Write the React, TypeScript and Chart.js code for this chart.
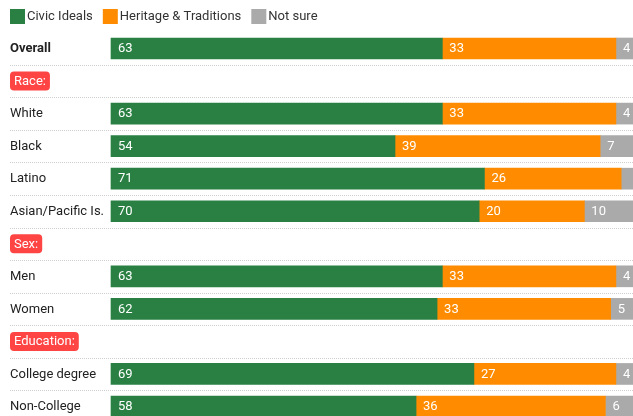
import React, { useEffect, useRef } from "react";
import { Chart, registerables } from "chart.js";

Chart.register(...registerables);

const categories = [
  "Overall",
  "Race:",
  "White",
  "Black",
  "Latino",
  "Asian/Pacific Is.",
  "Sex:",
  "Men",
  "Women",
  "Education:",
  "College degree",
  "Non-College",
];
const headerLabels = ["Race:", "Sex:", "Education:"];
const boldLabels = ["Overall"];
const seriesNames = ["Civic Ideals", "Heritage & Traditions", "Not sure"];
const civicIdeals = [63, null, 63, 54, 71, 70, null, 63, 62, null, 69, 58];
const heritage = [33, null, 33, 39, 26, 20, null, 33, 33, null, 27, 36];
const notSure = [4, null, 4, 7, 3, 10, null, 4, 5, null, 4, 6];
const colors = ["#2a8043", "#ff8c00", "#aaaaaa"];

const FONT = "Roboto, 'Noto Sans', sans-serif";

const overlayPlugin = {
  id: "overlay",
  afterDatasetsDraw(chart: any) {
    const ctx = chart.ctx as CanvasRenderingContext2D;
    const yScale = chart.scales.y;
    const width = chart.width;
    ctx.save();
    // legend
    ctx.font = `13px ${FONT}`;
    ctx.textBaseline = "middle";
    let lx = 10;
    seriesNames.forEach((name, i) => {
      ctx.fillStyle = colors[i];
      ctx.fillRect(lx, 9, 15, 15);
      ctx.fillStyle = "#333";
      ctx.textAlign = "left";
      ctx.fillText(name, lx + 17, 17);
      lx += 17 + ctx.measureText(name).width + 10;
    });
    // separators
    ctx.strokeStyle = "#cfcfcf";
    ctx.lineWidth = 1;
    ctx.setLineDash([1, 1]);
    for (let i = 0; i < categories.length - 1; i++) {
      const y = Math.round((yScale.getPixelForValue(i) + yScale.getPixelForValue(i + 1)) / 2) + 0.5;
      ctx.beginPath();
      ctx.moveTo(10, y);
      ctx.lineTo(width, y);
      ctx.stroke();
    }
    ctx.setLineDash([]);
    // category labels
    categories.forEach((label, i) => {
      const y = yScale.getPixelForValue(i);
      if (headerLabels.includes(label)) {
        ctx.font = `13px ${FONT}`;
        const w = ctx.measureText(label).width + 8;
        ctx.fillStyle = "#ff4444";
        ctx.beginPath();
        (ctx as any).roundRect(10, y - 9.5, w, 19, 4);
        ctx.fill();
        ctx.fillStyle = "#ffffff";
        ctx.textAlign = "left";
        ctx.fillText(label, 14, y + 0.5);
      } else {
        ctx.font = boldLabels.includes(label) ? `bold 13px ${FONT}` : `13px ${FONT}`;
        ctx.fillStyle = "#222";
        ctx.textAlign = "left";
        ctx.fillText(label, 10, y + 0.5);
      }
    });
    // value labels
    ctx.font = `13px ${FONT}`;
    ctx.fillStyle = "#ffffff";
    chart.data.datasets.forEach((ds: any, di: number) => {
      const meta = chart.getDatasetMeta(di);
      meta.data.forEach((bar: any, i: number) => {
        const v = ds.data[i];
        if (v == null) return;
        const left = Math.min(bar.x, bar.base);
        if (left + 6 > width - 4) return;
        if (v < 4) return;
        ctx.fillText(String(v), left + 7, bar.y + 0.5);
      });
    });
    ctx.restore();
  },
};

export default function App() {
  const ref = useRef<HTMLCanvasElement>(null);
  useEffect(() => {
    document.body.style.margin = "0";
    const chart = new Chart(ref.current as HTMLCanvasElement, {
      type: "bar",
      data: {
        labels: categories,
        datasets: [civicIdeals, heritage, notSure].map((d, i) => ({
          label: seriesNames[i],
          data: d as any,
          backgroundColor: colors[i],
          barThickness: 21,
          borderWidth: 0,
          clip: false as any,
        })),
      },
      options: {
        indexAxis: "y",
        animation: false,
        responsive: false,
        maintainAspectRatio: false,
        layout: { padding: { left: 111, right: 0, top: 48.5, bottom: 9.5 } },
        plugins: { legend: { display: false }, tooltip: { enabled: false } },
        scales: {
          x: { stacked: true, min: 0, max: 99.25, display: false },
          y: { stacked: true, display: false, offset: false },
        },
      },
      plugins: [overlayPlugin],
    });
    return () => chart.destroy();
  }, []);
  return (
    <div style={{ position: "fixed", left: 0, top: 0, width: 633, height: 416, background: "#fff" }}>
      <canvas ref={ref} width={633} height={416} />
    </div>
  );
}
